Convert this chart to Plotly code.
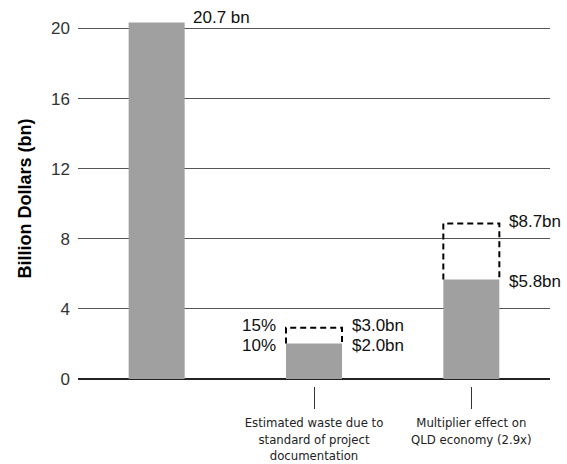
import plotly.graph_objects as go

# ---- data ----
positions = [0, 1, 2]
categories = ["", "Estimated waste due to<br>standard of project<br>documentation",
              "Multiplier effect on<br>QLD economy (2.9x)"]
bar_values = [20.35, 2.02, 5.68]
bar_labels = ["20.7 bn", "$2.0bn", "$5.8bn"]
upper_values = [None, 2.92, 8.88]
upper_labels = [None, "$3.0bn", "$8.7bn"]
pct_low = [None, "10%", None]
pct_high = [None, "15%", None]
y_ticks = [0, 4, 8, 12, 16, 20]

BAR_W = 0.356
COND = "DejaVu Sans Condensed, Liberation Sans, Arial, sans-serif"
REG = "Liberation Sans, Arial, Helvetica, sans-serif"

fig = go.Figure()
fig.add_trace(go.Bar(x=positions, y=bar_values, width=BAR_W,
                     marker=dict(color="#a0a0a0", line=dict(width=0)),
                     hoverinfo="skip", showlegend=False))

annotations = []
lab_font = dict(family=REG, size=17, color="#111")
for i, (p, v, lab) in enumerate(zip(positions, bar_values, bar_labels)):
    if upper_values[i] is not None:
        u = upper_values[i]
        xl, xr = p - BAR_W / 2, p + BAR_W / 2
        fig.add_trace(go.Scatter(x=[xl, xl, xr, xr], y=[v, u, u, v], mode="lines",
                                 line=dict(color="black", width=2, dash="6px,4px"),
                                 hoverinfo="skip", showlegend=False))
        annotations.append(dict(x=xr, y=u, text=upper_labels[i], xanchor="left",
                                yanchor="middle", xshift=8, yshift=2, showarrow=False,
                                font=lab_font))
        annotations.append(dict(x=xr, y=v, text=lab, xanchor="left",
                                yanchor="middle", xshift=8, yshift=-2, showarrow=False,
                                font=lab_font))
        if pct_high[i]:
            annotations.append(dict(x=xl, y=u, text=pct_high[i], xanchor="right",
                                    yanchor="middle", xshift=-8, yshift=2, showarrow=False,
                                    font=lab_font))
            annotations.append(dict(x=xl, y=v, text=pct_low[i], xanchor="right",
                                    yanchor="middle", xshift=-8, yshift=-2, showarrow=False,
                                    font=lab_font))
    else:
        annotations.append(dict(x=p + BAR_W / 2, y=v, text=lab, xanchor="left",
                                yanchor="middle", xshift=6, yshift=5, showarrow=False,
                                font=lab_font))

fig.update_layout(
    width=567, height=464,
    margin=dict(l=78, r=17, t=11, b=78),
    plot_bgcolor="white", paper_bgcolor="white",
    annotations=annotations,
    xaxis=dict(range=[-0.5, 2.5], tickmode="array", tickvals=positions[1:],
               ticktext=categories[1:], ticks="outside", ticklen=22, tickwidth=1,
               tickcolor="#333", showgrid=False, zeroline=False, showline=False,
               tickangle=0, automargin=False, ticklabelstandoff=2,
               tickfont=dict(family=COND, size=13, color="#222")),
    yaxis=dict(range=[-0.4, 21], tickmode="array", tickvals=y_ticks,
               showgrid=True, gridcolor="#555555", gridwidth=1,
               zeroline=True, zerolinecolor="#222", zerolinewidth=1.5,
               showline=False, ticks="", ticklabelstandoff=7, automargin=False,
               tickfont=dict(family=REG, size=17, color="#333"),
               title=dict(text="<b>Billion Dollars (bn)</b>", standoff=14,
                          font=dict(family=REG, size=18, color="black"))),
)

fig.write_html("out.html")
